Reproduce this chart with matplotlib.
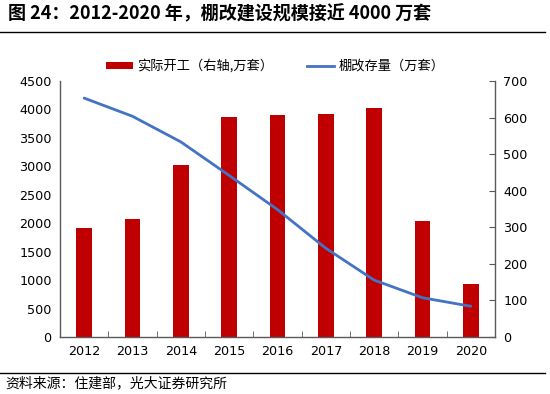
import matplotlib
matplotlib.use("Agg")
import matplotlib.pyplot as plt
from matplotlib.lines import Line2D
from matplotlib.patches import Patch

plt.rcParams['font.family'] = ['Noto Sans CJK SC', 'DejaVu Sans']

years = ['2012', '2013', '2014', '2015', '2016', '2017', '2018', '2019', '2020']
starts = [299, 323, 470, 601, 606, 609, 626, 316, 144]          # 实际开工（右轴）
stock = [4200, 3880, 3430, 2840, 2240, 1560, 1000, 690, 540]    # 棚改存量
left_ticks = [0, 500, 1000, 1500, 2000, 2500, 3000, 3500, 4000, 4500]
right_ticks = [0, 100, 200, 300, 400, 500, 600, 700]

title = '图 24：2012-2020 年，棚改建设规模接近 4000 万套'
source = '资料来源：住建部，光大证券研究所'
bar_label = '实际开工（右轴,万套）'
line_label = '棚改存量（万套）'

bar_color = '#C00000'
line_color = '#4472C4'
axis_color = '#595959'

fig = plt.figure(figsize=(5.5, 3.94), dpi=100)
ax = fig.add_axes([0.109, 0.1447, 0.791, 0.6497])
ax2 = ax.twinx()

x = list(range(len(years)))
ax2.bar(x, starts, width=0.32, color=bar_color, zorder=2)
ax.plot(x, stock, color=line_color, lw=2.0, solid_capstyle='round',
        solid_joinstyle='round', zorder=3)

ax.set_zorder(ax2.get_zorder() + 1)
ax.patch.set_visible(False)

ax.set_xlim(-0.5, len(years) - 0.5)
ax.set_ylim(0, 4500)
ax2.set_ylim(0, 700)
ax.set_yticks(left_ticks)
ax.set_yticklabels([str(v) for v in left_ticks], family='DejaVu Sans', fontsize=9.2)
ax2.set_yticks(right_ticks)
ax2.set_yticklabels([str(v) for v in right_ticks], family='DejaVu Sans', fontsize=9.2)
ax.set_xticks(x)
ax.set_xticklabels(years, family='DejaVu Sans', fontsize=9.2)
ax.set_xticks([i + 0.5 for i in x[:-1]], minor=True)

for a in (ax, ax2):
    a.spines['top'].set_visible(False)
    for s in a.spines.values():
        s.set_color(axis_color)
        s.set_linewidth(1.0)
ax.spines['right'].set_visible(False)
ax2.spines['left'].set_visible(False)
ax2.spines['bottom'].set_visible(False)

ax.tick_params(axis='y', direction='in', length=0, pad=6, colors='black')
ax2.tick_params(axis='y', direction='in', length=4, pad=6, colors='black')
ax2.tick_params(axis='y', color=axis_color)
ax.tick_params(axis='x', which='major', length=0, pad=6)
ax.tick_params(axis='x', which='minor', direction='in', length=4, color=axis_color)

handles = [Patch(facecolor=bar_color, edgecolor='none'),
           Line2D([0], [0], color=line_color, lw=2.0)]
fig.legend(handles, [bar_label, line_label], loc='center', bbox_to_anchor=(0.5, 0.8325),
           ncol=2, frameon=False, fontsize=9.5, handlelength=2.1, handleheight=0.45,
           handletextpad=0.3, columnspacing=2.5)

fig.text(0.015, 0.964, title, fontsize=13, fontweight='bold', va='center', ha='left')
fig.text(0.009, 0.028, source, fontsize=10, va='center', ha='left')

fig.add_artist(Line2D([0.0, 0.991], [0.92, 0.92], color='black', lw=1.0, transform=fig.transFigure))
fig.add_artist(Line2D([0.0, 0.991], [0.053, 0.053], color='black', lw=1.0, transform=fig.transFigure))

fig.savefig('out.png', dpi=100)
